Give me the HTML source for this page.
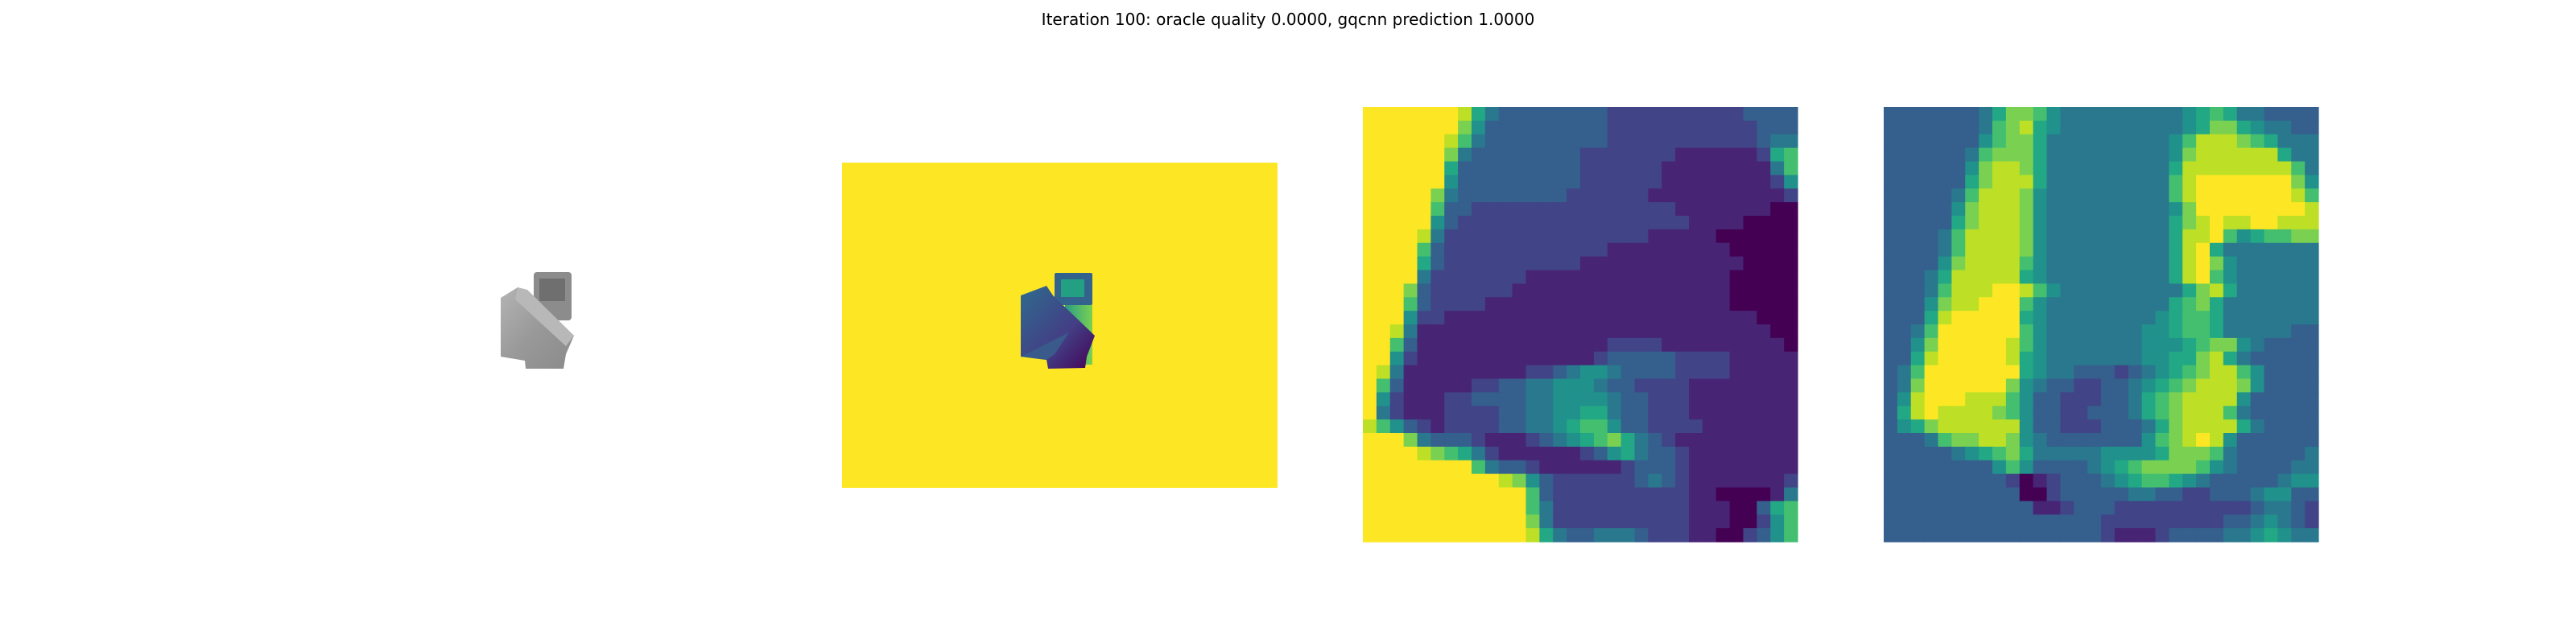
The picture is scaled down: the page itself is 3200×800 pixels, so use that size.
<!DOCTYPE html>
<html><head><meta charset="utf-8"><style>
html,body{margin:0;padding:0;background:#fff;}
svg{display:block;}
</style></head><body>
<svg id="fig" width="3200" height="800" viewBox="0 0 3200 800" xmlns="http://www.w3.org/2000/svg">
<rect width="3200" height="800" fill="#fff"/>
<text x="1600" y="31" text-anchor="middle" font-family="DejaVu Sans, Liberation Sans, sans-serif" font-size="20" fill="#000">Iteration 100: oracle quality 0.0000, gqcnn prediction 1.0000</text>
<defs>
<linearGradient id="gBody" x1="0" y1="0" x2="1" y2="1"><stop offset="0" stop-color="#2f6b8e"/><stop offset="0.6" stop-color="#433e85"/><stop offset="1" stop-color="#440154"/></linearGradient>
<linearGradient id="gStrip" x1="0" y1="0" x2="1" y2="0"><stop offset="0" stop-color="#2a9d86"/><stop offset="1" stop-color="#7ad151"/></linearGradient>
<linearGradient id="gGrey" x1="0" y1="0" x2="1" y2="1"><stop offset="0" stop-color="#b4b4b4"/><stop offset="0.5" stop-color="#999"/><stop offset="1" stop-color="#8a8a8a"/></linearGradient>
</defs>
<g>
<rect x="663" y="338" width="47" height="60" rx="4" fill="#8c8c8c"/>
<rect x="670" y="346" width="32" height="28" fill="#6f6f6f"/>
<polygon points="622,370 643,357 655,360 713,417 703,440 700,458 653,458 652,448 622,443" fill="url(#gGrey)"/>
<polygon points="643,357 655,360 713,417 703,430 640,372" fill="#b8b8b8"/>
</g>
<g>
<rect x="1046" y="202" width="541" height="404" fill="#fde725"/>
<rect x="1310" y="339" width="47" height="40" rx="2" fill="#33638d"/>
<rect x="1318" y="347" width="29" height="22" fill="#23a081"/>
<rect x="1323" y="379" width="34" height="74" fill="url(#gStrip)"/>
<polygon points="1268,367 1300,355 1308,367 1360,417 1350,443 1348,457 1302,458 1300,447 1268,443" fill="url(#gBody)"/>
<polygon points="1268,443 1328,413 1310,440 1300,447" fill="#3a5a8c"/>
</g>
<g id="hm1"></g>
<g id="hm2"></g>
</svg>
<script>
const crop1Rows = [
"AAAAAAA9643333333322222222223333",
"AAAAAAA8533333333322222222222333",
"AAAAAA97433333333322222222222344",
"AAAAAA84333333332222222111111267",
"AAAAAA63333333332222221111111147",
"AAAAAA53333333332222221111111125",
"AAAAA843333333322222211111111112",
"AAAAA733222222222222222111111100",
"AAAAA532222222222222222211110000",
"AAAA9422222222222222211111000000",
"AAAA7322222222222211111111100000",
"AAAA6322222222221111111111110000",
"AAAA4222222211111111111111100000",
"AAA83222222111111111111111100000",
"AAA73222211111111111111111100000",
"AAA52211111111111111111111111000",
"AA941111111111111111111111111100",
"AA731111111111111122221111111110",
"AA521111111111111233333222211111",
"A9411111111122345543333222211111",
"A7311111223344555433222211111111",
"A5211122333344555543322211111111",
"A4211122223344556643322211111111",
"97532122223344567753322221111111",
"AAA84333211123456786432111111111",
"AAAA9876421111112356433211111111",
"AAAAAAAA743321111112333211111111",
"AAAAAAAAAA9853222222343211111112",
"AAAAAAAAAAAA73222222222211000014",
"AAAAAAAAAAAA74222222222211100367",
"AAAAAAAAAAAA84222222222211100257",
"AAAAAAAAAAAA96433444322211002357"
];
const crop2Rows = [
"33333334688754444444445676443333",
"33333334789654444444445688654433",
"33333335788644444444457999876444",
"33333347888644444444458999999644",
"33333358998644444444469999999974",
"33333368999644444444479AAAAAAA85",
"33333479998544444444479AAAAAAA97",
"3333358999854444444445 8AAAAAAAA9".replace(' ',''),
"33333689998544444444468 9A99AA999".replace(' ',''),
"33334799998544444444469 9A7567788".replace(' ',''),
"33334799998544444444469A64444444",
"33335899997544444444469A85444444",
"33346999996544444444469A75444444",
"33347999AA9754444444446896444444",
"3335899AAA7544444444467864444444",
"33369AAAAA6544444444567764444444",
"3347AAAAAA7544444445567764444433",
"3358AAAAA97544444445556788543333",
"3369AAAAA96544444445566896433333",
"347AAAAAAA6544333234567899753333",
"348AAAAAA85433223345678999853333",
"359AAA99975332223346789999533333",
"369A999987533223334678999743333",
"35689999995332223334689999643333",
"33347889985433333335789A95333333",
"33333456786444445555688874333334",
"33333333575333345678888754333344",
"33333333320123334567765433333455",
"33333333330023333344332233345533",
"33333333333112333222222222234432",
"33333333333333332222222223345432",
"33333333333333332111233334456544"
];
const stops = ["#440154","#482475","#414487","#355f8d","#2a788e","#21918c","#22a884","#44bf70","#7ad151","#bddf26","#fde725"];
function heatmap(gid, rows, x0, y0, size){
  const g = document.getElementById(gid);
  const n = 32, c = size / n;
  rows.forEach(function(row, r){
    let s = row;
    while (s.length < n) s += s[s.length-1];
    for (let k = 0; k < n; k++){
      const v = parseInt(s[k], 16) / 10;
      const rect = document.createElementNS("http://www.w3.org/2000/svg","rect");
      rect.setAttribute("x", (x0 + k*c).toFixed(3));
      rect.setAttribute("y", (y0 + r*c).toFixed(3));
      rect.setAttribute("width", (c+0.6).toFixed(3));
      rect.setAttribute("height", (c+0.6).toFixed(3));
      rect.setAttribute("fill", stops[Math.max(0, Math.min(10, Math.round(v*10)))]);
      
      
      g.appendChild(rect);
    }
  });
}
heatmap("hm1", crop1Rows, 1693, 133, 540);
heatmap("hm2", crop2Rows, 2340, 133, 540);
</script>
</body></html>
